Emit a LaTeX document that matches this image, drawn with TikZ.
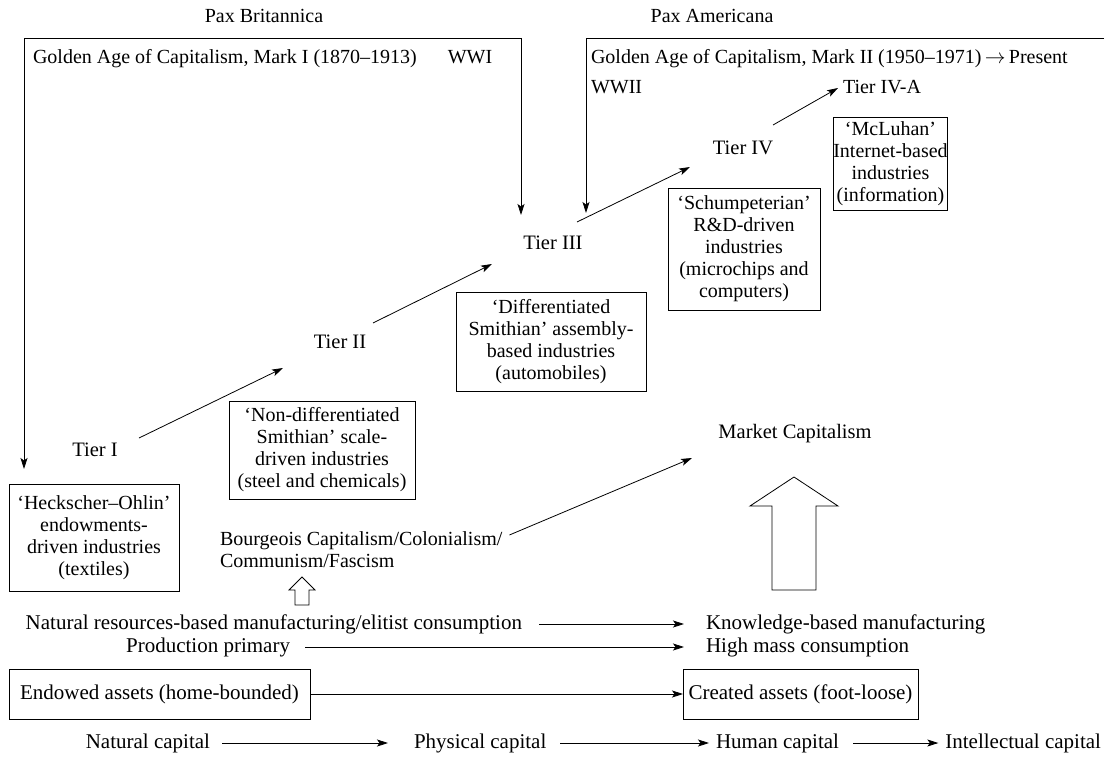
\documentclass[tikz,border=0pt]{standalone}
\usepackage{fontspec}
\setmainfont{Liberation Serif}
\usetikzlibrary{arrows.meta,calc}
\begin{document}
\begin{tikzpicture}[x=1pt,y=-1pt,
  every node/.style={font=\fontsize{20}{22}\selectfont, inner sep=0pt, outer sep=0pt},
  big/.style={font=\fontsize{21}{22}\selectfont},
  mid/.style={font=\fontsize{20.5}{22}\selectfont},
  lbl/.style={text height=12pt,text depth=2pt},
  bx/.style={draw,line width=0.8pt,align=center},
  arr/.style={line width=0.8pt,-{Stealth[length=11pt,width=7pt,inset=2.5pt]}},
  darr/.style={line width=0.8pt,{Stealth[length=11pt,width=7pt,inset=2.5pt]}-{Stealth[length=11pt,width=7pt,inset=2.5pt]}},
  hollow/.style={draw,line width=0.8pt,fill=white,line join=miter}
]
\useasboundingbox (0,0) rectangle (1106,763);

% top labels
\node[lbl] (paxb) at (264,17) {Pax Britannica};
\node[lbl] (paxa) at (712,17) {Pax Americana};
\node[lbl,anchor=west] (g1) at (33,58) {Golden Age of Capitalism, Mark I (1870–1913)};
\node[lbl] (wwi) at (470,58) {WWI};
\node[lbl,anchor=west] (g2) at (591,58) {Golden Age of Capitalism, Mark II (1950–1971)\,$\rightarrow$\,Present};
\node[lbl,anchor=west] (wwii) at (591,88) {WWII};
\node[lbl,anchor=west] (t4a) at (843,88) {Tier IV-A};

% tiers
\node[lbl,mid] (t4) at (743,149) {Tier IV};
\node[lbl,mid] (t3) at (553,244) {Tier III};
\node[lbl,mid] (t2) at (340,343) {Tier II};
\node[lbl,mid] (t1) at (95,451) {Tier I};
\node[lbl,mid] (mc) at (795,433) {Market Capitalism};

% boxes
\node[bx,minimum width=113pt,minimum height=93pt] (mcl) at (890.5,163.5) {‘McLuhan’\\Internet-based\\industries\\(information)};
\node[bx,minimum width=152pt,minimum height=122pt] (sc) at (744,249) {‘Schumpeterian’\\R\&D-driven\\industries\\(microchips and\\computers)};
\node[bx,minimum width=190pt,minimum height=99pt] (df) at (551,341.5) {‘Differentiated\\Smithian’ assembly-\\based industries\\(automobiles)};
\node[bx,minimum width=186pt,minimum height=98pt] (nd) at (322,450) {‘Non-differentiated\\Smithian’ scale-\\driven industries\\(steel and chemicals)};
\node[bx,minimum width=170pt,minimum height=107pt] (hk) at (94,537.5) {‘Heckscher–Ohlin’\\endowments-\\driven industries\\(textiles)};

\node[align=left,anchor=west] (bg) at (220,550) {Bourgeois Capitalism/Colonialism/\\Communism/Fascism};

% bottom rows
\node[lbl,big,anchor=east] (nr) at (522,624) {Natural resources-based manufacturing/elitist consumption};
\node[lbl,big,anchor=west] (kb) at (706,624) {Knowledge-based manufacturing};
\node[lbl,big,anchor=east] (pp) at (290,647) {Production primary};
\node[lbl,big,anchor=west] (hm) at (706,647) {High mass consumption};
\node[bx,big,minimum width=301pt,minimum height=50pt] (eb) at (159.5,694) {Endowed assets (home-bounded)};
\node[bx,big,minimum width=235pt,minimum height=50pt] (cb) at (800.5,694) {Created assets (foot-loose)};
\node[lbl,big,anchor=east] (nc) at (210,743) {Natural capital};
\node[lbl,big,anchor=west] (pc) at (414,743) {Physical capital};
\node[lbl,big,anchor=west] (hc) at (716,743) {Human capital};
\node[lbl,big,anchor=east] (ic) at (1101,743) {Intellectual capital};

% frames
\coordinate (fl) at (24,38);
\coordinate (fr) at (521,38);
\coordinate (rl) at (586,38);
\coordinate (re) at (1104,38);
\draw[darr] ($(hk.north)+(-70,-15)$) -- (fl) -- (fr) -- ($(t3.center)+(-32,-29)$);
\draw[arr] (re) -- (rl) -- ($(t3.center)+(33,-31)$);

% tier arrows
\draw[arr] ($(t1.center)+(44,-13)$) -- ($(t2.center)+(-57,25)$);
\draw[arr] ($(t2.center)+(33,-20)$) -- ($(t3.center)+(-61,20)$);
\draw[arr] ($(t3.center)+(24,-22)$) -- ($(t4.center)+(-53,18)$);
\draw[arr] ($(t4.center)+(30,-24)$) -- ($(t4a.west)+(-5,0)$);
\draw[arr] ($(bg.east)+(7,-15)$) -- ($(mc.center)+(-103,25)$);

% hollow arrows
\draw[hollow] (295,605) -- (295,590) -- (289,590) -- (302,577) -- (315,590) -- (309,590) -- (309,605) -- cycle;
\draw[hollow] (772,590) -- (772,506) -- (750,506) -- (794,477) -- (838,506) -- (816,506) -- (816,590) -- cycle;

% bottom arrows
\draw[arr] ($(nr.east)+(17,0)$) -- ($(kb.west)+(-22,0)$);
\draw[arr] ($(pp.east)+(15,0)$) -- ($(hm.west)+(-22,0)$);
\draw[arr] (eb.east) -- (cb.west);
\draw[arr] ($(nc.east)+(12,0)$) -- ($(pc.west)+(-26,0)$);
\draw[arr] ($(pc.east)+(14,0)$) -- ($(hc.west)+(-7,0)$);
\draw[arr] ($(hc.east)+(14,0)$) -- ($(ic.west)+(-7,0)$);
\end{tikzpicture}
\end{document}
